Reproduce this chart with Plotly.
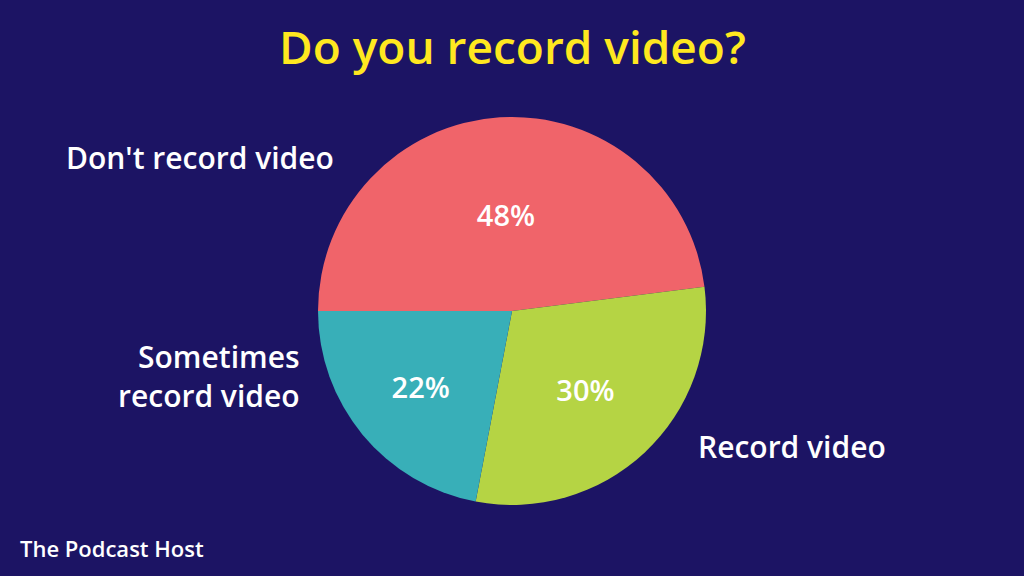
import plotly.graph_objects as go

categories = ["Don't record video", "Record video", "Sometimes record video"]
values = [48, 30, 22]
colors = ["#F0646A", "#B5D444", "#38AFB8"]
outside_labels = ["Don't record video", "Record video", "Sometimes<br>record video"]
title_text = "Do you record video?"
brand_text = "The Podcast Host"

BG = "#1C1464"
FONT = "Open Sans"

fig = go.Figure(go.Pie(
    labels=categories,
    values=values,
    sort=False,
    direction="clockwise",
    rotation=-90,
    marker=dict(colors=colors, line=dict(width=0)),
    texttemplate="%{value}%",
    textposition="inside",
    insidetextorientation="horizontal",
    textfont=dict(family=FONT, size=29, color="white", weight=600),
    hoverinfo="label+percent",
    showlegend=False,
    domain=dict(x=[0.3105, 0.6895], y=[0.1233, 0.7969]),
))

ann_font = dict(family=FONT, size=30, color="white", weight=600)
fig.add_annotation(x=200, y=157, xref="x", yref="y", text=outside_labels[0],
                   showarrow=False, font=ann_font, xanchor="center", yanchor="middle")
fig.add_annotation(x=792, y=446, xref="x", yref="y", text=outside_labels[1],
                   showarrow=False, font=ann_font, xanchor="center", yanchor="middle")
fig.add_annotation(x=302, y=376, xref="x", yref="y", text=outside_labels[2],
                   showarrow=False, font=ann_font, xanchor="right", yanchor="middle", align="right")
fig.add_annotation(x=512, y=46, xref="x", yref="y", text=title_text,
                   showarrow=False, font=dict(family=FONT, size=46, color="#FFE820", weight=600),
                   xanchor="center", yanchor="middle")
fig.add_annotation(x=18, y=548, xref="x", yref="y", text=brand_text,
                   showarrow=False, font=dict(family=FONT, size=22, color="white", weight=600),
                   xanchor="left", yanchor="middle")

fig.update_layout(
    width=1024, height=576,
    margin=dict(l=0, r=0, t=0, b=0),
    paper_bgcolor=BG, plot_bgcolor="rgba(0,0,0,0)",
    xaxis=dict(range=[0, 1024], visible=False, fixedrange=True),
    yaxis=dict(range=[576, 0], visible=False, fixedrange=True),
)

fig.write_html("out.html", config={"displayModeBar": False},
               post_script="document.body.style.margin='0';document.body.style.background='#1C1464';")
